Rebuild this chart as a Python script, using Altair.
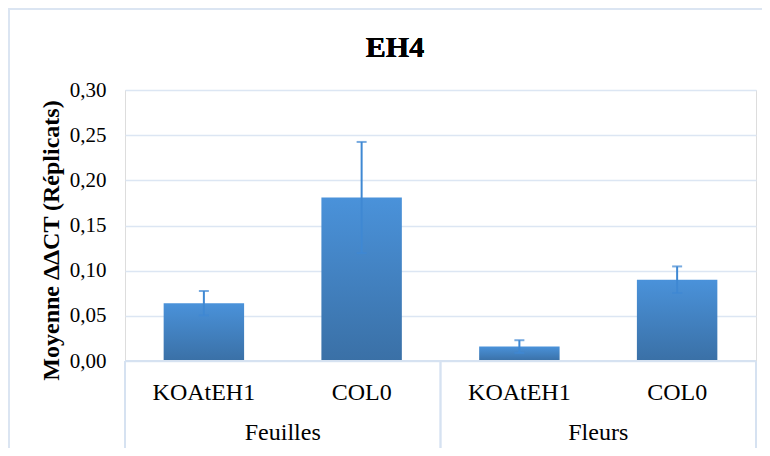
import altair as alt
import pandas as pd

groups = ["Feuilles", "Feuilles", "Fleurs", "Fleurs"]
labels = ["KOAtEH1", "COL0", "KOAtEH1", "COL0"]
means = [0.064, 0.181, 0.016, 0.090]
errors = [0.0135, 0.0615, 0.007, 0.0147]
y_ticks = [0.0, 0.05, 0.10, 0.15, 0.20, 0.25, 0.30]

keys = [g + "|" + l for g, l in zip(groups, labels)]
df = pd.DataFrame({
    "key": keys,
    "group": groups,
    "label": labels,
    "mean": means,
    "lo": [m - e for m, e in zip(means, errors)],
    "hi": [m + e for m, e in zip(means, errors)],
})
df_groups = df.drop_duplicates("group")

FONT = "'Times New Roman', 'Liberation Serif', Tinos, serif"
W, H = 631, 271
STEP = W / 4

x = alt.X("key:N", sort=keys, axis=None,
          scale=alt.Scale(paddingInner=0.49, paddingOuter=0.245))

gradient = alt.Gradient(
    gradient="linear",
    stops=[alt.GradientStop(color="#4a92da", offset=0),
           alt.GradientStop(color="#3a70a6", offset=1)],
    x1=0, x2=0, y1=0, y2=1,
)

base = alt.Chart(df)

bars = base.mark_bar(color=gradient).encode(
    x=x,
    y=alt.Y("mean:Q", scale=alt.Scale(domain=[0, 0.3]),
            axis=alt.Axis(
                values=y_ticks,
                labelExpr="replace(format(datum.value, '.2f'), '.', ',')",
                labelFont=FONT, labelFontSize=21, labelColor="#000000",
                labelPadding=19, domain=False, ticks=False,
                gridColor="#dce6f3", gridWidth=1.5,
                title="Moyenne ΔΔCT (Réplicats)",
                titleFont=FONT, titleFontSize=24, titleFontWeight="bold",
                titleColor="#000000", titleAngle=270, titleX=-67, titleY=150,
                titleBaseline="alphabetic", titleAlign="center",
            )),
)

err_color = "#3f88d3"
err_rule = base.mark_rule(color=err_color, strokeWidth=2).encode(
    x=x, y="lo:Q", y2="hi:Q")
cap_lo = base.mark_tick(color=err_color, thickness=2, size=10).encode(
    x=x, y="lo:Q")
cap_hi = base.mark_tick(color=err_color, thickness=2, size=10).encode(
    x=x, y="hi:Q")

cat_text = base.mark_text(font=FONT, fontSize=24, color="#000000",
                          baseline="alphabetic").encode(
    x=x, y=alt.value(310), text="label:N")

grp_text = alt.Chart(df_groups).mark_text(
    font=FONT, fontSize=24, color="#000000", baseline="alphabetic",
    dx=STEP / 2).encode(
    x=x, y=alt.value(350), text="group:N")

frame_color = "#d6e2f1"
baseline_rule = base.mark_rule(color=frame_color, strokeWidth=1.5).encode(
    x=alt.value(0), x2=alt.value(W), y=alt.value(H))
sep_left = base.mark_rule(color=frame_color, strokeWidth=1.5).encode(
    x=alt.value(0), y=alt.value(H), y2=alt.value(372))
sep_mid = base.mark_rule(color=frame_color, strokeWidth=1.5).encode(
    x=alt.value(W / 2), y=alt.value(H), y2=alt.value(372))
sep_right = base.mark_rule(color=frame_color, strokeWidth=1.5).encode(
    x=alt.value(W), y=alt.value(H), y2=alt.value(372))

border_color = "#dbe5f2"
border_top = base.mark_rule(color=border_color, strokeWidth=2).encode(
    x=alt.value(-117), x2=alt.value(W + 10), y=alt.value(-81))
border_left = base.mark_rule(color=border_color, strokeWidth=2).encode(
    x=alt.value(-116), y=alt.value(-81), y2=alt.value(372))

title = base.mark_text(font=FONT, fontSize=30, fontWeight="bold",
                       color="#000000", baseline="alphabetic").encode(
    x=alt.value(270), y=alt.value(-33), text=alt.value("EH4"))

chart = alt.layer(
    bars, err_rule, cap_lo, cap_hi, cat_text, grp_text,
    baseline_rule, sep_left, sep_mid, sep_right,
    border_top, border_left, title,
).properties(
    width=W, height=H,
    autosize=alt.AutoSizeParams(type="none"),
    padding={"left": 117, "top": 82, "right": 6, "bottom": 87},
).configure_view(stroke=None).configure(background="white")

chart.save("out.html", embed_options={"renderer": "svg", "actions": False})
